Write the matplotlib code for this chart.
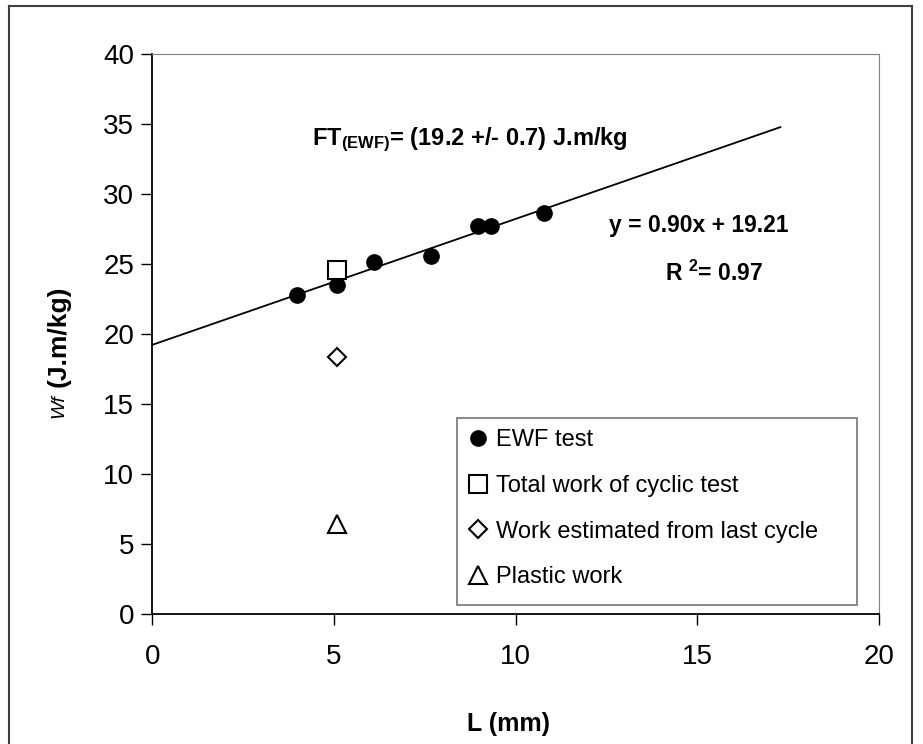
import matplotlib.pyplot as plt
from matplotlib.lines import Line2D
from matplotlib.patches import Rectangle

plt.rcParams['font.family'] = ['Liberation Sans', 'DejaVu Sans']
plt.rcParams['mathtext.fontset'] = 'custom'
plt.rcParams['mathtext.rm'] = 'Liberation Sans:bold'
plt.rcParams['mathtext.it'] = 'Liberation Sans:italic'
plt.rcParams['mathtext.bf'] = 'Liberation Sans:bold'

# EWF tests
L_ewf = [3.97, 5.09, 6.09, 7.67, 8.97, 9.32, 10.77]
wf_ewf = [22.8, 23.45, 25.15, 25.55, 27.7, 27.7, 28.6]

# cyclic test at one ligament length
L_cyc = [5.09]
wf_total = [24.55]
wf_last = [18.35]
wf_plastic = [6.4]

# linear fit
slope = 0.90
intercept = 19.21
fit_x = [0, 17.29]

W, H = 923, 744
fig = plt.figure(figsize=(W / 100, H / 100), dpi=100)
ax = fig.add_axes([152.4 / W, 1 - 613.5 / H, 726.4 / W, 559.5 / H])

ax.plot(fit_x, [slope * x + intercept for x in fit_x], color='black', lw=1.3)
ax.plot(L_ewf, wf_ewf, 'o', color='black', ms=11, ls='none')
ax.plot(L_cyc, wf_total, 's', mfc='white', mec='black', mew=1.5, ms=12.5, ls='none')
ax.plot(L_cyc, wf_last, 'D', mfc='white', mec='black', mew=1.5, ms=9, ls='none')
ax.plot(L_cyc, wf_plastic, '^', mfc='white', mec='black', mew=1.5, ms=13, ls='none')

ax.set_xlim(0, 20)
ax.set_ylim(0, 40)
ax.set_xticks([0, 5, 10, 15, 20])
ax.set_yticks(range(0, 41, 5))
ax.tick_params(labelsize=20, direction='out', length=8, width=1, pad=5)
ax.tick_params(axis='x', pad=14)
for side in ['top', 'right']:
    ax.spines[side].set_color('#808080')
for side in ['left', 'bottom']:
    ax.spines[side].set_linewidth(1.3)

ax.text(4.39, 33.9, r'FT$_{(\mathrm{EWF})}$= (19.2 +/- 0.7) J.m/kg',
        fontsize=17, fontweight='bold', va='center', ha='left')
ax.text(12.57, 27.77, 'y = 0.90x + 19.21', fontsize=16.5, fontweight='bold',
        va='center', ha='left')
ax.text(14.1, 24.3, r'R $^{2}$= 0.97', fontsize=16.5, fontweight='bold',
        va='center', ha='left')

# axis titles
fig.text(509 / W, 1 - 724 / H, 'L (mm)', fontsize=18, fontweight='bold',
         ha='center', va='center')
fig.text(59 / W, 1 - 406 / H, 'Wf', fontsize=14, style='italic',
         rotation=90, ha='center', va='center')
fig.text(59 / W, 1 - 336 / H, '(J.m/kg)', fontsize=19, fontweight='bold',
         rotation=90, ha='center', va='center')

handles = [
    Line2D([], [], marker='o', color='black', ls='none', ms=11),
    Line2D([], [], marker='s', mfc='white', mec='black', mew=1.5, ls='none', ms=12.5),
    Line2D([], [], marker='D', mfc='white', mec='black', mew=1.5, ls='none', ms=9),
    Line2D([], [], marker='^', mfc='white', mec='black', mew=1.5, ls='none', ms=13),
]
labels = ['EWF test', 'Total work of cyclic test',
          'Work estimated from last cycle', 'Plastic work']
fig.legend(handles, labels, loc='upper left',
           bbox_to_anchor=(469 / W, 1 - 429.5 / H),
           fontsize=17, frameon=False, borderaxespad=0, borderpad=0,
           handlelength=0.8, handletextpad=0.35, labelspacing=1.0)

# legend box
fig.add_artist(Rectangle((456.7 / W, 1 - 605 / H), (857 - 456.7) / W,
                         (605 - 417.6) / H, fill=False, edgecolor='#808080',
                         lw=1.3, transform=fig.transFigure))

# frame around the whole figure
fig.add_artist(Line2D([9 / W, 9 / W], [0, 1 - 6 / H], color='#404040', lw=1.5))
fig.add_artist(Line2D([9 / W, 912 / W], [1 - 6 / H, 1 - 6 / H], color='#404040', lw=1.5))
fig.add_artist(Line2D([912 / W, 912 / W], [0, 1 - 6 / H], color='#404040', lw=1.5))

fig.savefig('out.png', dpi=100)
